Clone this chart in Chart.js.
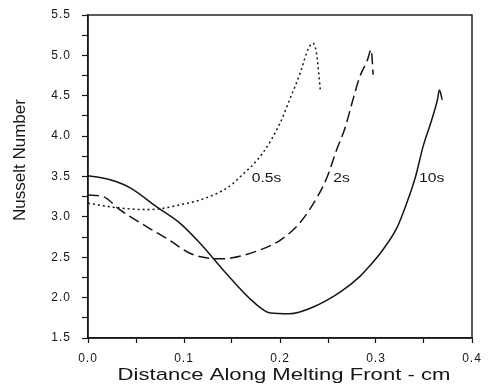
<!DOCTYPE html>
<html>
<head>
<meta charset="utf-8">
<script src="https://cdn.jsdelivr.net/npm/chart.js@4.4.0/dist/chart.umd.min.js"></script>
<style>
  html, body { margin: 0; padding: 0; background: #fff; }
  #wrap { width: 495px; height: 389px; }
</style>
</head>
<body>
<div id="wrap"><canvas id="grafico"></canvas></div>
<script>
// Nusselt number along the melting front at three times
const dist05 = [0, 0.026, 0.061, 0.075, 0.096, 0.117, 0.145, 0.158, 0.182, 0.200, 0.210, 0.221, 0.229, 0.234, 0.238, 0.242];
const nu05   = [3.17, 3.12, 3.09, 3.10, 3.15, 3.21, 3.36, 3.49, 3.79, 4.16, 4.45, 4.78, 5.07, 5.15, 5.03, 4.57];

const dist2 = [0, 0.016, 0.033, 0.061, 0.085, 0.106, 0.120, 0.138, 0.149, 0.179, 0.200, 0.221, 0.239, 0.249, 0.259, 0.268, 0.275, 0.283, 0.291, 0.295, 0.297];
const nu2   = [3.27, 3.25, 3.09, 2.88, 2.71, 2.55, 2.50, 2.48, 2.49, 2.59, 2.71, 2.93, 3.25, 3.49, 3.83, 4.11, 4.41, 4.73, 4.94, 5.07, 4.76];

const dist10 = [0, 0.023, 0.044, 0.072, 0.096, 0.117, 0.141, 0.172, 0.190, 0.210, 0.234, 0.263, 0.283, 0.294, 0.307, 0.322, 0.332, 0.341, 0.349, 0.358, 0.364, 0.366, 0.369];
const nu10   = [3.51, 3.46, 3.36, 3.12, 2.92, 2.67, 2.34, 1.95, 1.81, 1.80, 1.88, 2.07, 2.26, 2.40, 2.59, 2.87, 3.17, 3.49, 3.87, 4.20, 4.45, 4.57, 4.45];

// curve labels: text, x, y (data units)
const curveLabels = ["0.5s", "2s", "10s"];
const curveLabelX = [0.186, 0.264, 0.358];
const curveLabelY = [3.47, 3.47, 3.47];

const tinta = "#161616";
const fonte = "'Liberation Sans', Arial, sans-serif";

function pontos(xs, ys) {
  return xs.map((x, i) => ({ x: x, y: ys[i] }));
}

// text a bit wider than the font's normal width
function textoLargo(ctx, texto, x, y, escala) {
  ctx.save();
  ctx.translate(x, y);
  ctx.scale(escala, 1);
  ctx.fillText(texto, 0, 0);
  ctx.restore();
}

const molduraETextos = {
  id: "molduraETextos",
  beforeDraw(chart) {
    chart.ctx.letterSpacing = "1px";
  },
  afterDatasetsDraw(chart) {
    const { ctx, chartArea: a, scales } = chart;
    ctx.save();
    ctx.letterSpacing = "0px";
    ctx.strokeStyle = tinta;
    ctx.lineWidth = 1.4;
    ctx.strokeRect(a.left, a.top, a.right - a.left, a.bottom - a.top);

    ctx.fillStyle = tinta;
    ctx.textAlign = "center";
    ctx.textBaseline = "middle";
    ctx.font = "12.5px " + fonte;
    curveLabels.forEach((t, i) => {
      textoLargo(ctx, t, scales.x.getPixelForValue(curveLabelX[i]), scales.y.getPixelForValue(curveLabelY[i]), 1.25);
    });

    ctx.font = "17px " + fonte;
    textoLargo(ctx, "Distance Along Melting Front - cm", 284, 375, 1.3);

    ctx.translate(20, 160);
    ctx.rotate(-Math.PI / 2);
    ctx.fillText("Nusselt Number", 0, 0);
    ctx.restore();
  }
};

const ctx = document.getElementById("grafico").getContext("2d");

new Chart(ctx, {
  type: "line",
  data: {
    datasets: [
      {
        label: "0.5s",
        data: pontos(dist05, nu05),
        borderColor: tinta,
        borderWidth: 1.5,
        borderDash: [2, 3],
        pointRadius: 0,
        cubicInterpolationMode: "monotone"
      },
      {
        label: "2s",
        data: pontos(dist2, nu2),
        borderColor: tinta,
        borderWidth: 1.5,
        borderDash: [11, 5],
        pointRadius: 0,
        cubicInterpolationMode: "monotone"
      },
      {
        label: "10s",
        data: pontos(dist10, nu10),
        borderColor: tinta,
        borderWidth: 1.5,
        pointRadius: 0,
        cubicInterpolationMode: "monotone"
      }
    ]
  },
  options: {
    responsive: true,
    maintainAspectRatio: false,
    animation: false,
    layout: { padding: { top: 15, right: 23, left: 0, bottom: 0 } },
    plugins: {
      legend: { display: false },
      tooltip: { enabled: false }
    },
    scales: {
      x: {
        type: "linear",
        min: 0,
        max: 0.4,
        afterFit: s => { s.height = 51; s.paddingLeft = 0; s.paddingRight = 0; },
        grid: { drawOnChartArea: false, tickLength: 5, color: tinta, tickWidth: 1.2 },
        border: { color: tinta, width: 1.4 },
        ticks: {
          stepSize: 0.05,
          color: tinta,
          padding: 8,
          maxRotation: 0,
          autoSkip: false,
          font: { family: fonte, size: 12 },
          callback: v => Math.abs(v * 10 - Math.round(v * 10)) < 1e-6 ? v.toFixed(1) : ""
        }
      },
      y: {
        min: 1.5,
        max: 5.5,
        afterFit: s => { s.width = 88; s.paddingTop = 0; s.paddingBottom = 0; },
        grid: { drawOnChartArea: false, tickLength: 6, color: tinta, tickWidth: 1.2 },
        border: { color: tinta, width: 1.4 },
        ticks: {
          stepSize: 0.25,
          color: tinta,
          padding: 11,
          autoSkip: false,
          font: { family: fonte, size: 12 },
          callback: v => Math.abs(v * 2 - Math.round(v * 2)) < 1e-6 ? v.toFixed(1) : ""
        }
      }
    }
  },
  plugins: [molduraETextos]
});
</script>
</body>
</html>
